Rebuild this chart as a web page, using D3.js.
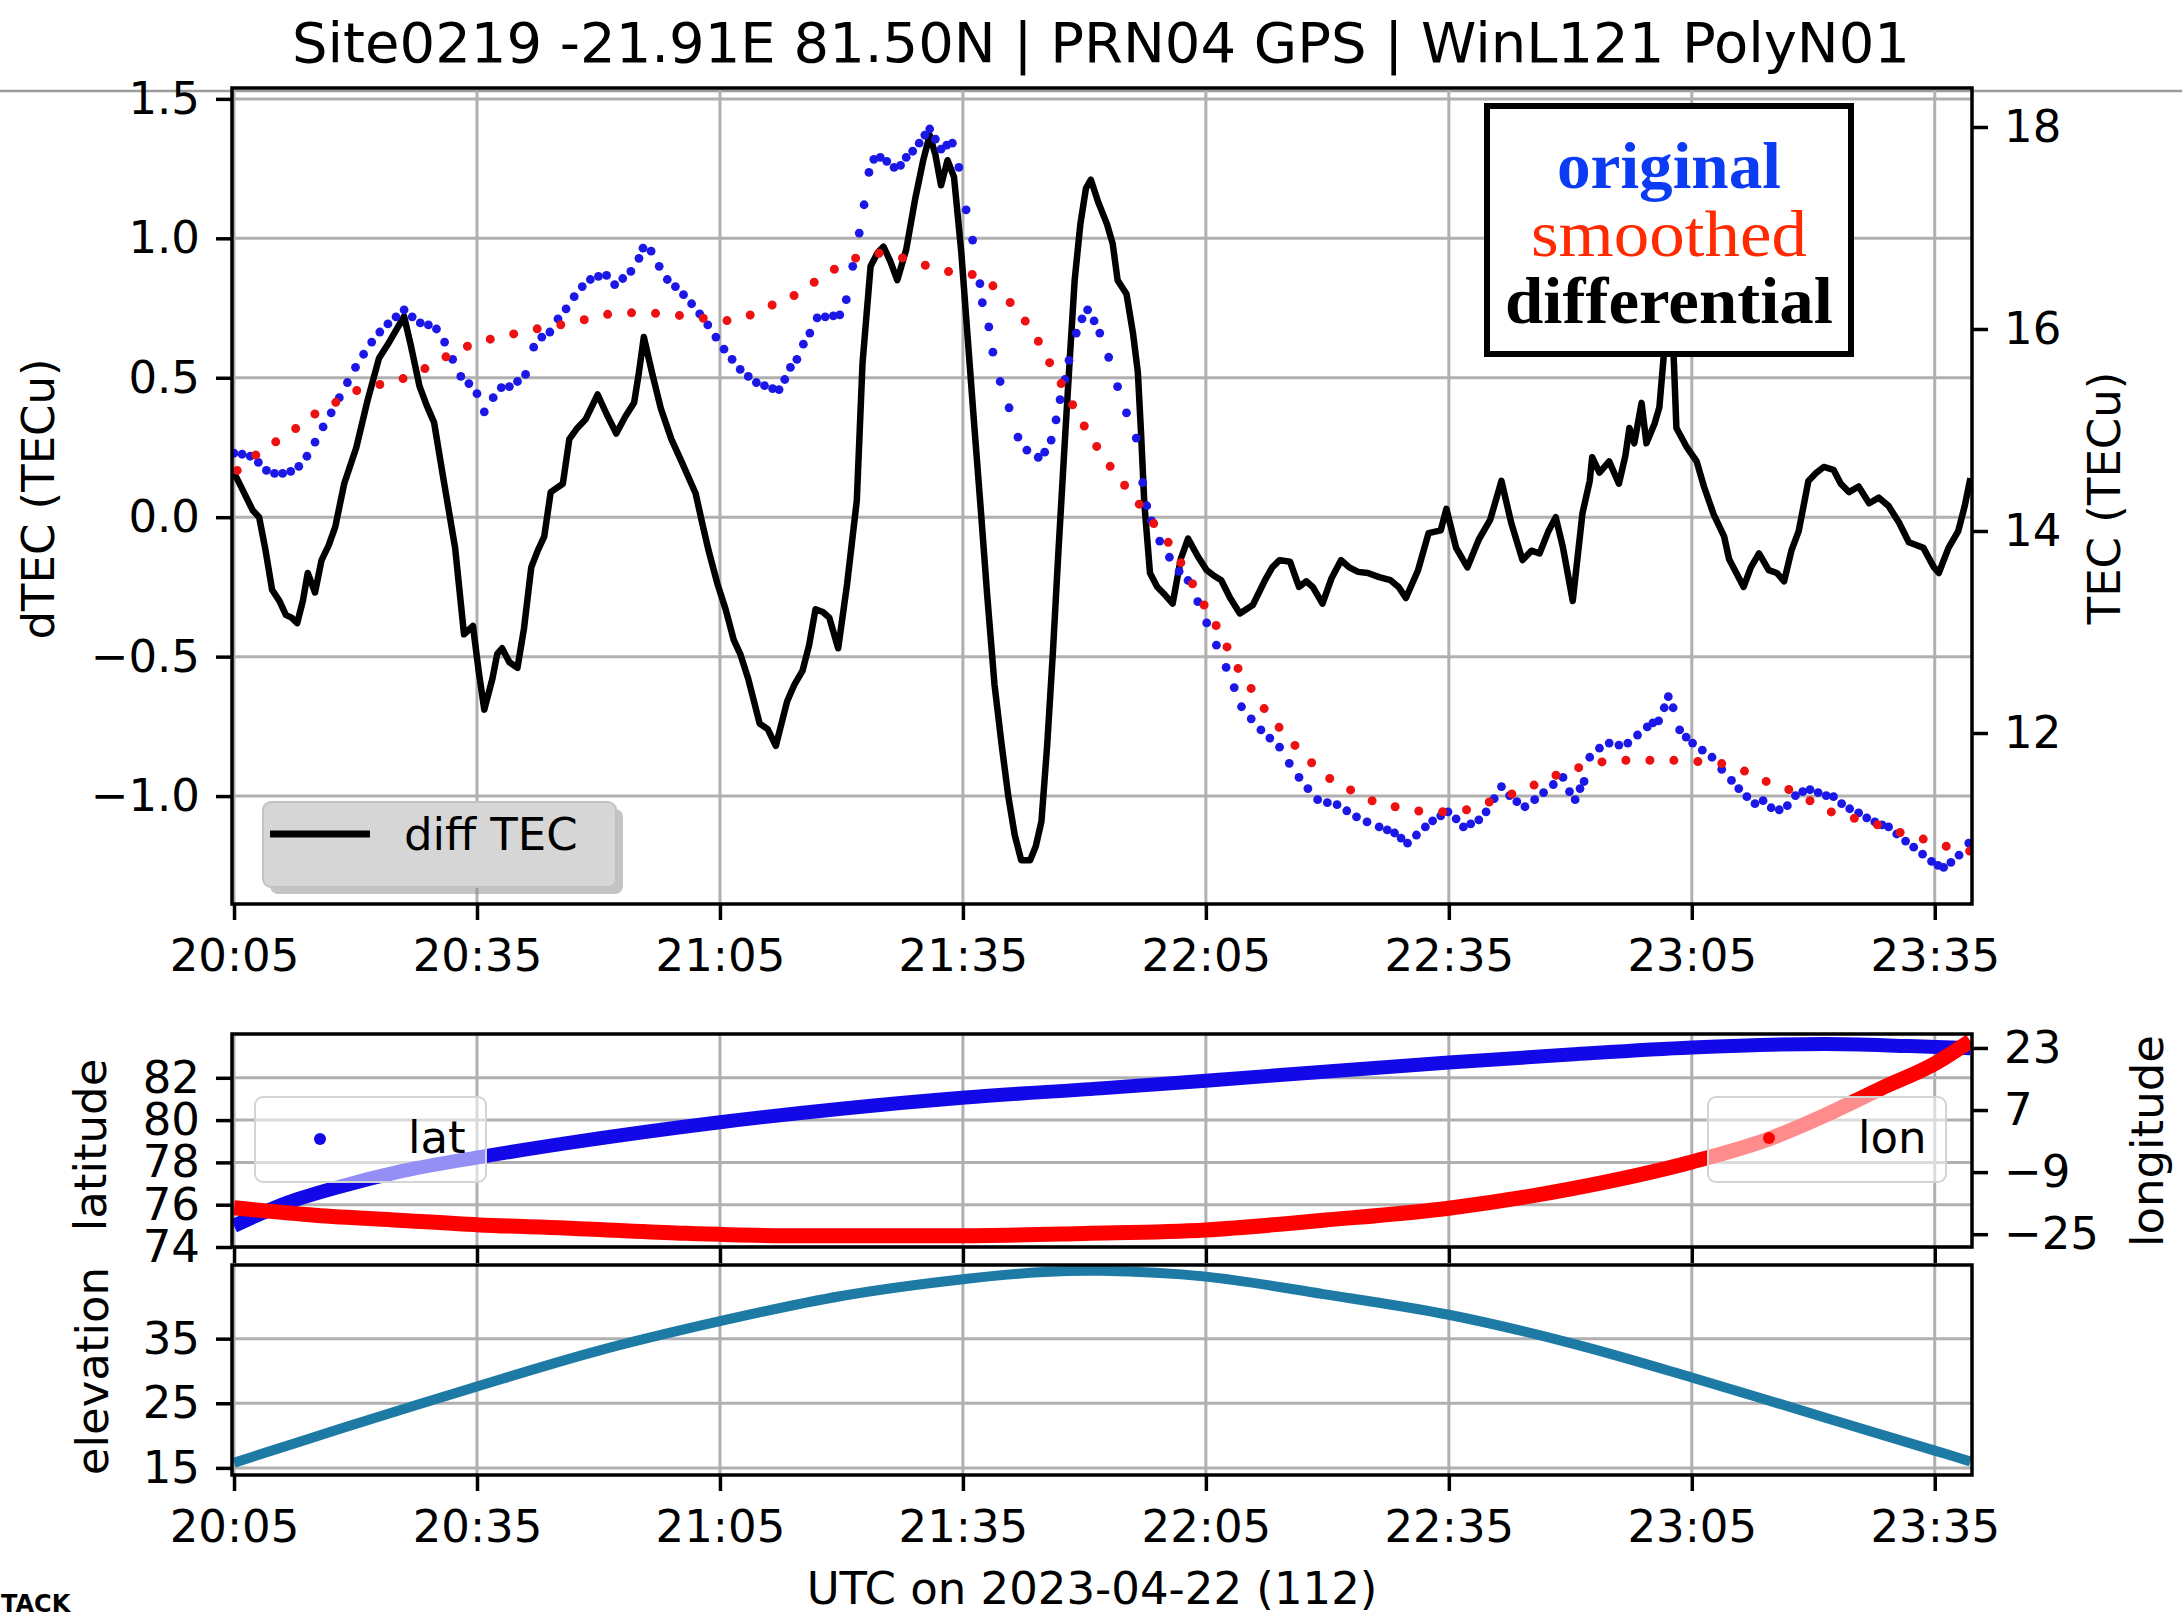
<!DOCTYPE html>
<html>
<head>
<meta charset="utf-8">
<script src="https://cdn.jsdelivr.net/npm/d3@7"></script>
<style>
  html, body { margin: 0; padding: 0; background: #fff; }
  svg text { font-family: "DejaVu Sans", sans-serif; }
</style>
</head>
<body>
<svg id="chart" width="2182" height="1617"></svg>
<script>
// ---- data (minutes after 20:05 UTC, value) ----
var titleText = "Site0219 -21.91E 81.50N | PRN04 GPS | WinL121 PolyN01";
var xLabelText = "UTC on 2023-04-22 (112)";
var tickMinutes = [0, 30, 60, 90, 120, 150, 180, 210];
var diffTicks = [-1.0, -0.5, 0.0, 0.5, 1.0, 1.5];
var tecTicks = [12, 14, 16, 18];
var latTicks = [74, 76, 78, 80, 82];
var lonTicks = [-25, -9, 7, 23];
var elevTicks = [15, 25, 35];

// differential TEC (black line, left axis)
var diffTec = [[0,0.16],[1.2,0.09],[2.3,0.025],[3.1,0.0],[3.9,-0.12],[4.7,-0.26],[5.6,-0.30],[6.4,-0.35],[7.1,-0.36],[7.8,-0.38],[8.5,-0.30],[9.1,-0.20],[10.0,-0.27],[10.8,-0.155],[11.7,-0.10],[12.5,-0.035],[13.6,0.12],[15.1,0.25],[16.5,0.42],[17.9,0.57],[19.0,0.62],[19.8,0.66],[21.0,0.72],[21.8,0.62],[22.9,0.47],[23.8,0.40],[24.7,0.34],[25.9,0.13],[27.3,-0.11],[28.4,-0.42],[29.5,-0.39],[30.2,-0.55],[30.9,-0.69],[31.9,-0.58],[32.5,-0.49],[33.1,-0.47],[34.0,-0.52],[35.0,-0.54],[35.8,-0.40],[36.7,-0.18],[37.5,-0.12],[38.3,-0.07],[39.1,0.09],[40.6,0.12],[41.4,0.28],[42.4,0.32],[43.4,0.35],[44.9,0.44],[46.0,0.37],[47.2,0.30],[48.3,0.36],[49.4,0.41],[50.0,0.52],[50.6,0.646],[51.6,0.52],[52.7,0.39],[54.0,0.28],[55.4,0.19],[57.0,0.085],[57.8,-0.02],[58.6,-0.12],[59.7,-0.24],[60.7,-0.33],[61.7,-0.44],[62.5,-0.49],[63.5,-0.58],[64.9,-0.74],[65.9,-0.76],[66.9,-0.82],[67.6,-0.74],[68.3,-0.66],[69.2,-0.60],[70.2,-0.55],[71.0,-0.46],[71.8,-0.33],[72.7,-0.34],[73.5,-0.36],[74.6,-0.47],[75.7,-0.24],[76.9,0.06],[77.6,0.55],[78.6,0.90],[79.5,0.95],[80.2,0.97],[81.0,0.92],[81.9,0.85],[83.0,0.96],[84.1,1.14],[85.1,1.28],[85.9,1.37],[86.6,1.30],[87.3,1.19],[88.1,1.28],[88.9,1.22],[89.8,0.95],[90.6,0.64],[91.4,0.33],[92.2,0.03],[93.0,-0.28],[93.9,-0.60],[94.8,-0.82],[95.6,-1.0],[96.4,-1.14],[97.2,-1.23],[98.3,-1.23],[99.0,-1.18],[99.7,-1.09],[100.4,-0.82],[101.1,-0.49],[101.8,-0.12],[102.5,0.23],[103.2,0.57],[103.8,0.85],[104.5,1.05],[105.2,1.18],[105.8,1.21],[106.7,1.13],[107.8,1.05],[108.5,0.98],[109.1,0.85],[110.2,0.80],[111.0,0.66],[111.6,0.52],[112.0,0.30],[112.4,0.05],[113.1,-0.20],[114.0,-0.25],[115.0,-0.28],[115.9,-0.31],[116.9,-0.15],[117.8,-0.077],[119.0,-0.14],[120.1,-0.19],[121.0,-0.21],[121.9,-0.226],[123.0,-0.29],[124.2,-0.345],[125.8,-0.315],[127.3,-0.226],[128.2,-0.18],[129.1,-0.154],[130.4,-0.16],[131.5,-0.25],[132.4,-0.23],[133.2,-0.25],[134.4,-0.31],[135.5,-0.22],[136.7,-0.154],[137.7,-0.18],[138.8,-0.196],[140.0,-0.20],[141.4,-0.215],[142.8,-0.226],[143.8,-0.25],[144.7,-0.29],[146.2,-0.19],[147.5,-0.057],[149.0,-0.047],[149.7,0.03],[150.9,-0.11],[152.3,-0.18],[153.7,-0.08],[155.1,-0.01],[156.5,0.13],[157.7,-0.02],[159.1,-0.154],[160.2,-0.12],[161.2,-0.13],[162.3,-0.05],[163.2,0.0],[164.1,-0.11],[165.3,-0.30],[166.5,0.014],[167.4,0.13],[167.7,0.215],[168.6,0.16],[169.8,0.20],[171.0,0.12],[171.8,0.22],[172.3,0.32],[172.9,0.265],[173.8,0.41],[174.4,0.265],[175.4,0.335],[176.0,0.395],[176.6,0.60],[177.0,0.80],[177.4,0.78],[177.8,0.55],[178.1,0.32],[179.4,0.25],[180.6,0.20],[181.5,0.11],[182.7,0.01],[184.0,-0.07],[184.6,-0.15],[185.5,-0.20],[186.4,-0.25],[187.3,-0.18],[188.3,-0.13],[189.5,-0.19],[190.5,-0.20],[191.4,-0.23],[192.3,-0.12],[193.2,-0.05],[194.4,0.13],[195.4,0.16],[196.3,0.18],[197.5,0.17],[198.4,0.12],[199.4,0.09],[200.6,0.11],[201.9,0.05],[203.1,0.07],[204.3,0.04],[205.6,-0.02],[206.8,-0.09],[207.7,-0.10],[208.6,-0.11],[209.9,-0.18],[210.5,-0.20],[211.7,-0.11],[212.9,-0.05],[213.7,0.04],[214.4,0.14]];

// original TEC (blue markers, right axis)
var origTec = [[0,14.77],[1,14.76],[2,14.74],[3,14.68],[4,14.60],[5,14.57],[6,14.57],[7,14.59],[8,14.64],[9,14.74],[10,14.88],[11,15.03],[12,15.17],[13,15.32],[14,15.47],[15,15.62],[16,15.75],[17,15.87],[18,15.97],[19,16.05],[20,16.12],[21,16.19],[22,16.12],[23,16.06],[24,16.04],[25,16.00],[26,15.87],[27,15.70],[28,15.53],[29,15.46],[30,15.36],[30.9,15.18],[32,15.32],[33,15.42],[34,15.43],[35,15.48],[36,15.55],[37,15.82],[38,15.92],[39,15.97],[40,16.10],[41,16.20],[42,16.32],[43,16.42],[44,16.49],[45,16.52],[46,16.53],[47,16.44],[48,16.50],[49,16.57],[50,16.70],[50.5,16.80],[51.5,16.77],[52.5,16.62],[53.5,16.49],[54.5,16.42],[55.5,16.34],[56.5,16.25],[57.5,16.15],[58.5,16.04],[59.5,15.92],[60.5,15.80],[61.5,15.70],[62.5,15.60],[63.5,15.53],[64.5,15.47],[65.5,15.44],[66.5,15.41],[67.3,15.40],[68.0,15.50],[68.7,15.62],[69.5,15.70],[70.3,15.85],[71.1,15.96],[72.0,16.11],[73.0,16.12],[74.0,16.13],[74.8,16.14],[75.6,16.29],[76.4,16.62],[77.2,16.95],[77.8,17.23],[78.4,17.55],[79.0,17.68],[79.8,17.70],[80.6,17.66],[81.5,17.60],[82.3,17.62],[83.0,17.70],[83.8,17.76],[84.6,17.84],[85.3,17.92],[85.9,17.98],[86.6,17.88],[87.3,17.78],[88.0,17.82],[88.7,17.84],[89.5,17.60],[90.4,17.18],[91.2,16.88],[92.1,16.45],[92.4,16.26],[93.2,16.02],[93.7,15.77],[94.6,15.48],[95.7,15.22],[96.8,14.93],[97.9,14.80],[99.3,14.73],[100.1,14.78],[100.9,14.90],[101.5,15.10],[102.0,15.30],[102.6,15.50],[103.1,15.69],[104.0,15.96],[104.7,16.10],[105.4,16.19],[106.2,16.08],[106.9,15.96],[108.0,15.72],[109.1,15.43],[110.2,15.17],[111.4,14.92],[112.2,14.48],[112.7,14.25],[113.3,14.10],[114.3,13.90],[115.5,13.74],[116.7,13.60],[117.8,13.51],[119.0,13.30],[120.1,13.09],[121.3,12.87],[122.5,12.65],[123.5,12.45],[124.4,12.26],[125.6,12.14],[126.8,12.03],[127.9,11.95],[129.1,11.86],[130.3,11.70],[131.5,11.56],[132.6,11.45],[133.8,11.34],[135.0,11.31],[136.2,11.29],[137.4,11.23],[138.6,11.17],[139.9,11.12],[141.4,11.07],[142.4,11.04],[143.3,11.01],[144.1,10.96],[144.9,10.91],[146.0,10.99],[147.1,11.07],[148.0,11.13],[149.0,11.18],[149.9,11.22],[150.9,11.15],[151.8,11.07],[152.7,11.10],[153.7,11.14],[154.6,11.22],[155.6,11.35],[156.5,11.47],[157.5,11.38],[158.4,11.32],[159.4,11.27],[160.6,11.34],[161.7,11.41],[162.9,11.49],[164.1,11.56],[164.9,11.42],[165.6,11.34],[166.2,11.45],[166.7,11.52],[167.4,11.76],[168.6,11.85],[169.8,11.90],[171.0,11.88],[172.1,11.90],[173.3,11.98],[174.5,12.06],[175.2,12.10],[175.9,12.12],[176.6,12.25],[177.1,12.36],[177.7,12.25],[178.5,12.03],[179.3,11.96],[180.1,11.90],[181.3,11.83],[182.5,11.76],[183.7,11.64],[184.9,11.53],[185.8,11.45],[186.8,11.37],[187.8,11.30],[188.8,11.33],[189.8,11.26],[190.8,11.24],[191.8,11.28],[192.8,11.38],[193.7,11.42],[194.6,11.44],[195.6,11.41],[196.6,11.38],[197.5,11.37],[198.5,11.30],[199.5,11.25],[200.6,11.21],[201.6,11.16],[202.6,11.12],[203.5,11.09],[204.3,11.07],[205.3,11.00],[206.4,10.93],[207.4,10.87],[208.5,10.80],[209.6,10.73],[210.4,10.69],[211.1,10.67],[212.0,10.72],[213.0,10.79],[214.2,10.91]];

// smoothed TEC (red dotted line, right axis)
var smoothTec = [[0.4,14.60],[2.5,14.74],[5.1,14.88],[7.7,15.02],[10.2,15.17],[12.7,15.28],[15.4,15.40],[18.5,15.46],[21.6,15.53],[24.3,15.64],[27.0,15.76],[29.8,15.86],[32.8,15.92],[35.6,15.97],[38.6,16.02],[41.6,16.06],[44.7,16.12],[47.7,16.16],[50.7,16.16],[54.0,16.14],[57.0,16.12],[60.1,16.08],[63.1,16.12],[65.9,16.22],[68.9,16.32],[71.4,16.45],[74.1,16.59],[76.7,16.70],[79.7,16.75],[82.7,16.70],[85.8,16.62],[88.8,16.56],[91.7,16.53],[94.1,16.40],[96.3,16.22],[98.2,16.02],[99.8,15.81],[101.2,15.59],[102.7,15.38],[104.2,15.15],[105.8,14.93],[107.4,14.73],[109.2,14.53],[111.0,14.35],[112.9,14.14],[114.9,13.94],[116.6,13.73],[118.0,13.53],[119.4,13.32],[121.1,13.09],[122.5,12.87],[123.9,12.65],[125.6,12.44],[127.3,12.23],[129.1,12.05],[131.2,11.86],[133.4,11.68],[135.8,11.52],[138.6,11.41],[141.4,11.30],[144.3,11.26],[147.3,11.22],[150.4,11.22],[153.5,11.27],[156.3,11.36],[159.1,11.43],[162.2,11.55],[165.0,11.63],[168.0,11.70],[171.0,11.73],[174.0,11.73],[177.1,11.73],[180.1,11.72],[183.5,11.70],[186.3,11.63],[189.2,11.52],[192.0,11.44],[194.8,11.32],[197.5,11.21],[200.3,11.15],[203.0,11.09],[205.9,11.01],[209.0,10.94],[212.3,10.86],[214.4,10.83]];

// ionospheric pierce point track and satellite elevation
var latTrack = [[0,75.0],[6.6,76.1],[13.5,76.9],[20.3,77.55],[30.3,78.25],[40.9,78.9],[60,79.9],[75,80.54],[90.3,81.07],[107,81.5],[120,81.86],[135,82.3],[150,82.72],[165,83.1],[180,83.43],[196.4,83.6],[206.8,83.5],[214.4,83.4]];
var lonTrack = [[0,-18.2],[10,-20.1],[20.3,-21.4],[30.3,-22.6],[40.9,-23.4],[54.6,-24.7],[68.3,-25.4],[88.8,-25.4],[105,-24.8],[120,-23.9],[134.5,-21.4],[150,-18.3],[165.4,-13.2],[180,-6.4],[189.6,-0.4],[196.4,5.6],[203.3,12.5],[210.2,19.2],[214.4,24.8]];
var elevTrack = [[0,15.8],[13.5,21.2],[30,27.6],[44.6,33.0],[60,37.7],[75,41.6],[90,44.2],[100,45.3],[107,45.5],[120,44.6],[134.5,41.9],[150,38.7],[165.4,34.2],[180,29.0],[196.4,22.8],[210.2,17.6],[214.4,16.0]];

// ---- layout ----
var W = 2182, H = 1617;
var L = 232, R = 1972;
var mainP = {top: 88, bottom: 904};
var geoP = {top: 1034, bottom: 1247};
var elevP = {top: 1265, bottom: 1475};
var FS = 45;
var startMs = Date.UTC(2023, 3, 22, 20, 5);
function at(m) { return new Date(startMs + m * 60000); }
function minus(f) { return function(d){ return (d < 0 ? "\u2212" : "") + d3.format(f)(Math.abs(d)); }; }

var svg = d3.select("#chart");
svg.append("rect").attr("width", W).attr("height", H).attr("fill", "#fff");

var x = d3.scaleUtc().domain([at(-0.25), at(214.6)]).range([L, R]);
var tickTimes = tickMinutes.map(at);
var fmtTime = d3.utcFormat("%H:%M");

var yDiff = d3.scaleLinear().domain([-1.387, 1.539]).range([mainP.bottom, mainP.top]);
var yTec = d3.scaleLinear().domain([10.307, 18.386]).range([mainP.bottom, mainP.top]);
var yLat = d3.scaleLinear().domain([74, 84.07]).range([geoP.bottom, geoP.top]);
var yLon = d3.scaleLinear().domain([-28.3, 26.6]).range([geoP.bottom, geoP.top]);
var yEl = d3.scaleLinear().domain([13.9, 46.4]).range([elevP.bottom, elevP.top]);

// top separator line of the screenshot
svg.append("line").attr("x1", 0).attr("x2", W).attr("y1", 91).attr("y2", 91)
  .attr("stroke", "#9c9c9c").attr("stroke-width", 2.5);

svg.append("text").attr("x", 1101).attr("y", 62).attr("text-anchor", "middle")
  .attr("font-size", 56).text(titleText);

function clipFor(id, p) {
  svg.append("clipPath").attr("id", id).append("rect")
    .attr("x", L).attr("y", p.top).attr("width", R - L).attr("height", p.bottom - p.top);
  return "url(#" + id + ")";
}

function grid(p, yScale, yVals) {
  var g = svg.append("g").attr("stroke", "#b0b0b0").attr("stroke-width", 3);
  g.selectAll(".gv").data(tickTimes).enter().append("line")
    .attr("x1", function(d){ return x(d); }).attr("x2", function(d){ return x(d); })
    .attr("y1", p.top).attr("y2", p.bottom);
  g.selectAll(".gh").data(yVals).enter().append("line")
    .attr("x1", L).attr("x2", R)
    .attr("y1", function(d){ return yScale(d); }).attr("y2", function(d){ return yScale(d); });
}

function styleAxis(g) {
  g.attr("font-size", FS).attr("font-family", "DejaVu Sans");
  g.select(".domain").remove();
  g.selectAll(".tick line").attr("stroke", "#000").attr("stroke-width", 3.5);
  g.selectAll(".tick text").attr("fill", "#000");
}

function frame(p) {
  svg.append("rect").attr("x", L).attr("y", p.top).attr("width", R - L).attr("height", p.bottom - p.top)
    .attr("fill", "none").attr("stroke", "#000").attr("stroke-width", 3.5);
}

function yLabel(txt, cx, cy) {
  svg.append("text").attr("transform", "translate(" + cx + "," + cy + ") rotate(-90)")
    .attr("text-anchor", "middle").attr("dominant-baseline", "central")
    .attr("font-size", FS).text(txt);
}

var lineOf = function(ys) {
  return d3.line().x(function(d){ return x(at(d[0])); }).y(function(d){ return ys(d[1]); });
};

// ================= main panel =================
grid(mainP, yDiff, diffTicks);
var mainClip = clipFor("clipMain", mainP);
var gm = svg.append("g").attr("clip-path", mainClip);

gm.append("path").datum(diffTec).attr("d", lineOf(yDiff))
  .attr("fill", "none").attr("stroke", "#000").attr("stroke-width", 6.5).attr("stroke-linejoin", "round");

gm.selectAll(".orig").data(origTec).enter().append("circle")
  .attr("cx", function(d){ return x(at(d[0])); }).attr("cy", function(d){ return yTec(d[1]); })
  .attr("r", 4.4).attr("fill", "#1b17e6");

gm.append("path").datum(smoothTec).attr("d", lineOf(yTec).curve(d3.curveMonotoneX))
  .attr("fill", "none").attr("stroke", "#ee1111").attr("stroke-width", 9)
  .attr("stroke-linecap", "round").attr("stroke-dasharray", "0 24");

frame(mainP);

svg.append("g").attr("transform", "translate(0," + mainP.bottom + ")")
  .call(d3.axisBottom(x).tickValues(tickTimes).tickFormat(fmtTime).tickSize(16).tickPadding(19))
  .call(styleAxis);
svg.append("g").attr("transform", "translate(" + L + ",0)")
  .call(d3.axisLeft(yDiff).tickValues(diffTicks).tickFormat(minus(".1f")).tickSize(16).tickPadding(16))
  .call(styleAxis);
svg.append("g").attr("transform", "translate(" + R + ",0)")
  .call(d3.axisRight(yTec).tickValues(tecTicks).tickFormat(minus("d")).tickSize(16).tickPadding(16))
  .call(styleAxis);

yLabel("dTEC (TECu)", 38, 499);
yLabel("TEC (TECu)", 2104, 498);

// legend: diff TEC
var lg = svg.append("g");
lg.append("rect").attr("x", 270).attr("y", 809).attr("width", 353).attr("height", 85).attr("rx", 8)
  .attr("fill", "#8a8a8a").attr("opacity", 0.5);
lg.append("rect").attr("x", 263).attr("y", 802).attr("width", 353).attr("height", 85).attr("rx", 8)
  .attr("fill", "#d6d6d6").attr("stroke", "#c2c2c2").attr("stroke-width", 2);
lg.append("line").attr("x1", 270).attr("x2", 370).attr("y1", 834).attr("y2", 834)
  .attr("stroke", "#000").attr("stroke-width", 7);
lg.append("text").attr("x", 404).attr("y", 850).attr("font-size", FS).text("diff TEC");

// annotation box
var ab = svg.append("g");
ab.append("rect").attr("x", 1487).attr("y", 106).attr("width", 364).attr("height", 248)
  .attr("fill", "#fff").attr("stroke", "#000").attr("stroke-width", 6);
var notes = [
  {t: "original", c: "#0b3bf2", w: "bold", y: 188, len: 224},
  {t: "smoothed", c: "#ff2a00", w: "normal", y: 256, len: 276},
  {t: "differential", c: "#000", w: "bold", y: 323, len: 328}
];
ab.selectAll(".note").data(notes).enter().append("text")
  .attr("x", 1669).attr("y", function(d){ return d.y; }).attr("text-anchor", "middle")
  .attr("font-size", 66)
  .attr("font-weight", function(d){ return d.w; }).attr("fill", function(d){ return d.c; })
  .attr("textLength", function(d){ return d.len; }).attr("lengthAdjust", "spacingAndGlyphs")
  .style("font-family", "'Liberation Serif', serif")
  .text(function(d){ return d.t; });

// ================= lat / lon panel =================
grid(geoP, yLat, latTicks);
var geoClip = clipFor("clipGeo", geoP);
var gg = svg.append("g").attr("clip-path", geoClip);
gg.append("path").datum(latTrack).attr("d", lineOf(yLat).curve(d3.curveMonotoneX))
  .attr("fill", "none").attr("stroke", "#1208e8").attr("stroke-width", 14);
// lat legend (semi transparent, above the lat band)
svg.append("rect").attr("x", 255).attr("y", 1097).attr("width", 231).attr("height", 85).attr("rx", 8)
  .attr("fill", "#fff").attr("fill-opacity", 0.55).attr("stroke", "#d4d4d4").attr("stroke-width", 2);
svg.append("circle").attr("cx", 320).attr("cy", 1139).attr("r", 6).attr("fill", "#1208e8");
svg.append("text").attr("x", 408).attr("y", 1153).attr("font-size", FS).text("lat");

var gg2 = svg.append("g").attr("clip-path", geoClip);
gg2.append("path").datum(lonTrack).attr("d", lineOf(yLon).curve(d3.curveMonotoneX))
  .attr("fill", "none").attr("stroke", "#ff0000").attr("stroke-width", 15);
svg.append("rect").attr("x", 1708).attr("y", 1097).attr("width", 238).attr("height", 85).attr("rx", 8)
  .attr("fill", "#fff").attr("fill-opacity", 0.55).attr("stroke", "#d4d4d4").attr("stroke-width", 2);
svg.append("circle").attr("cx", 1769).attr("cy", 1138).attr("r", 6).attr("fill", "#ff0000");
svg.append("text").attr("x", 1858).attr("y", 1153).attr("font-size", FS).text("lon");

frame(geoP);
svg.append("g").attr("transform", "translate(0," + geoP.bottom + ")")
  .call(d3.axisBottom(x).tickValues(tickTimes).tickFormat("").tickSize(16))
  .call(styleAxis);
svg.append("g").attr("transform", "translate(" + L + ",0)")
  .call(d3.axisLeft(yLat).tickValues(latTicks).tickFormat(minus("d")).tickSize(16).tickPadding(16))
  .call(styleAxis);
svg.append("g").attr("transform", "translate(" + R + ",0)")
  .call(d3.axisRight(yLon).tickValues(lonTicks).tickFormat(minus("d")).tickSize(16).tickPadding(16))
  .call(styleAxis);
yLabel("latitude", 90, 1145);
yLabel("longitude", 2147, 1141);

// ================= elevation panel =================
grid(elevP, yEl, elevTicks);
var elClip = clipFor("clipEl", elevP);
svg.append("g").attr("clip-path", elClip)
  .append("path").datum(elevTrack).attr("d", lineOf(yEl).curve(d3.curveCatmullRom.alpha(0.5)))
  .attr("fill", "none").attr("stroke", "#1d7aa5").attr("stroke-width", 10);
frame(elevP);
svg.append("g").attr("transform", "translate(0," + elevP.bottom + ")")
  .call(d3.axisBottom(x).tickValues(tickTimes).tickFormat(fmtTime).tickSize(16).tickPadding(19))
  .call(styleAxis);
svg.append("g").attr("transform", "translate(" + L + ",0)")
  .call(d3.axisLeft(yEl).tickValues(elevTicks).tickFormat(minus("d")).tickSize(16).tickPadding(16))
  .call(styleAxis);
yLabel("elevation", 92, 1371);

svg.append("text").attr("x", 1092).attr("y", 1604).attr("text-anchor", "middle")
  .attr("font-size", FS).text(xLabelText);

// cropped caption fragment at the bottom left
svg.append("text").attr("x", 1).attr("y", 1612).attr("font-size", 24).attr("font-weight", "bold")
  .text("TACK");
</script>
</body>
</html>
